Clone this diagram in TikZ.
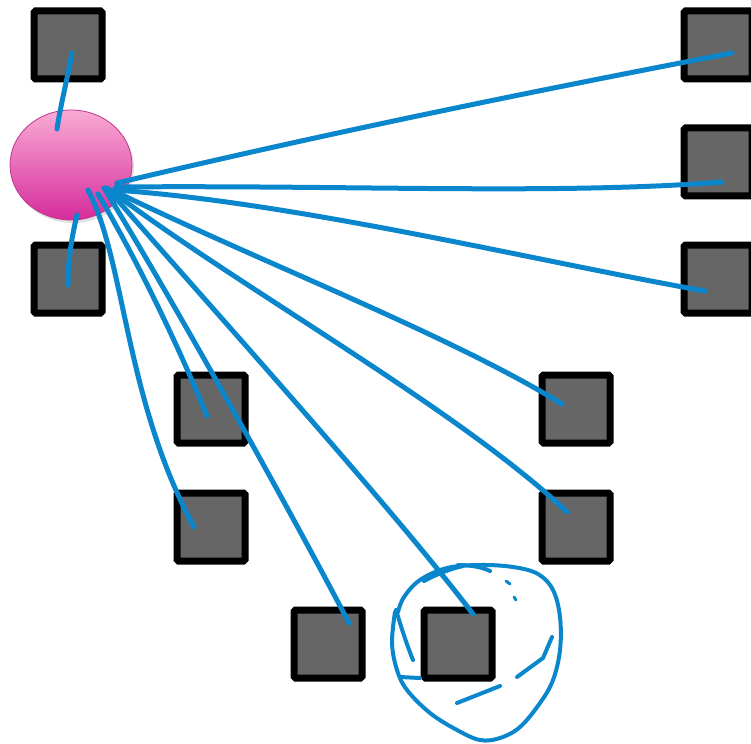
\documentclass[tikz,border=0pt]{standalone}
\begin{document}
\begin{tikzpicture}[x=1pt,y=-1pt,
  sq/.style={draw=black,fill=sqgray,line width=7pt,rounded corners=1.5pt,minimum size=68pt,inner sep=0pt},
  wire/.style={draw=wblue,line width=5pt,line cap=round,line join=round},
  ink/.style={draw=wblue,line width=4pt,line cap=round,line join=round}]
\definecolor{sqgray}{HTML}{666666}
\definecolor{wblue}{HTML}{0A86CD}
\definecolor{pinktop}{HTML}{F9ABD4}
\definecolor{pinkbot}{HTML}{D62C9C}
\definecolor{pinkedge}{HTML}{C0368C}
\useasboundingbox (0,0) rectangle (751,743);
\clip (0,0) rectangle (751,743);
% squares
\node[sq] (s1) at (68,45) {};
\node[sq] (s2) at (68,279) {};
\node[sq] (r1) at (718,45) {};
\node[sq] (r2) at (718,162) {};
\node[sq] (r3) at (718,279) {};
\node[sq] (m1) at (211,409) {};
\node[sq] (m2) at (211,527) {};
\node[sq] (n1) at (576,409) {};
\node[sq] (n2) at (576,527) {};
\node[sq] (b1) at (328,644) {};
\node[sq] (b2) at (458,644) {};
% hub
\fill[black!12] (73,168) ellipse [x radius=61, y radius=55];
\shade[top color=pinktop,bottom color=pinkbot,draw=pinkedge,line width=0.8pt] (71,165) ellipse [x radius=61, y radius=55];
\node[inner sep=0pt] (hub) at (71,165) {};
% connectors
\draw[wire] (72,53) .. controls (66,85) and (60,108) .. (57,129);
\draw[wire] (77,215) .. controls (71,240) and (68,262) .. (68,285);
\draw[wire] (117,183) .. controls (350,128) and (550,88) .. (732,53);
\draw[wire] (116,187) .. controls (350,185) and (560,195) .. (722,182);
\draw[wire] (115,190) .. controls (300,203) and (540,262) .. (705,291);
\draw[wire] (112,190) .. controls (260,262) and (450,335) .. (562,404);
\draw[wire] (110,190) .. controls (235,285) and (460,410) .. (567,512);
\draw[wire] (107,188) .. controls (200,295) and (390,505) .. (473,614);
\draw[wire] (104,188) .. controls (170,295) and (290,510) .. (349,623);
\draw[wire] (98,194) .. controls (140,265) and (180,350) .. (207,416);
\draw[wire] (88,190) .. controls (125,260) and (125,400) .. (194,527);
% hand-drawn annotation around b2
\draw[ink] plot[smooth,tension=0.6] coordinates {(395,612) (392,643) (397,670) (407,690) (430,713) (457,730) (480,740) (500,738) (520,727) (540,703) (553,680) (560,650) (560,617) (553,590) (538,574) (513,567) (480,565) (447,568) (420,580) (404,597) (398,612)};
\draw[ink] (396,610) .. controls (402,630) and (408,648) .. (413,660);
\draw[ink] (400,677) -- (420,678);
\draw[ink] (517,677) -- (543,658) -- (552,637);
\draw[ink] (457,703) -- (500,686);
\draw[ink] (424,581) .. controls (437,574) and (450,569) .. (463,566);
\draw[ink] (458,565) .. controls (470,565) and (482,567) .. (490,571);
\draw[ink,line width=3pt] (506,581) -- (510,584);
\draw[ink,line width=3pt] (514,597) -- (516,600);
\end{tikzpicture}
\end{document}
